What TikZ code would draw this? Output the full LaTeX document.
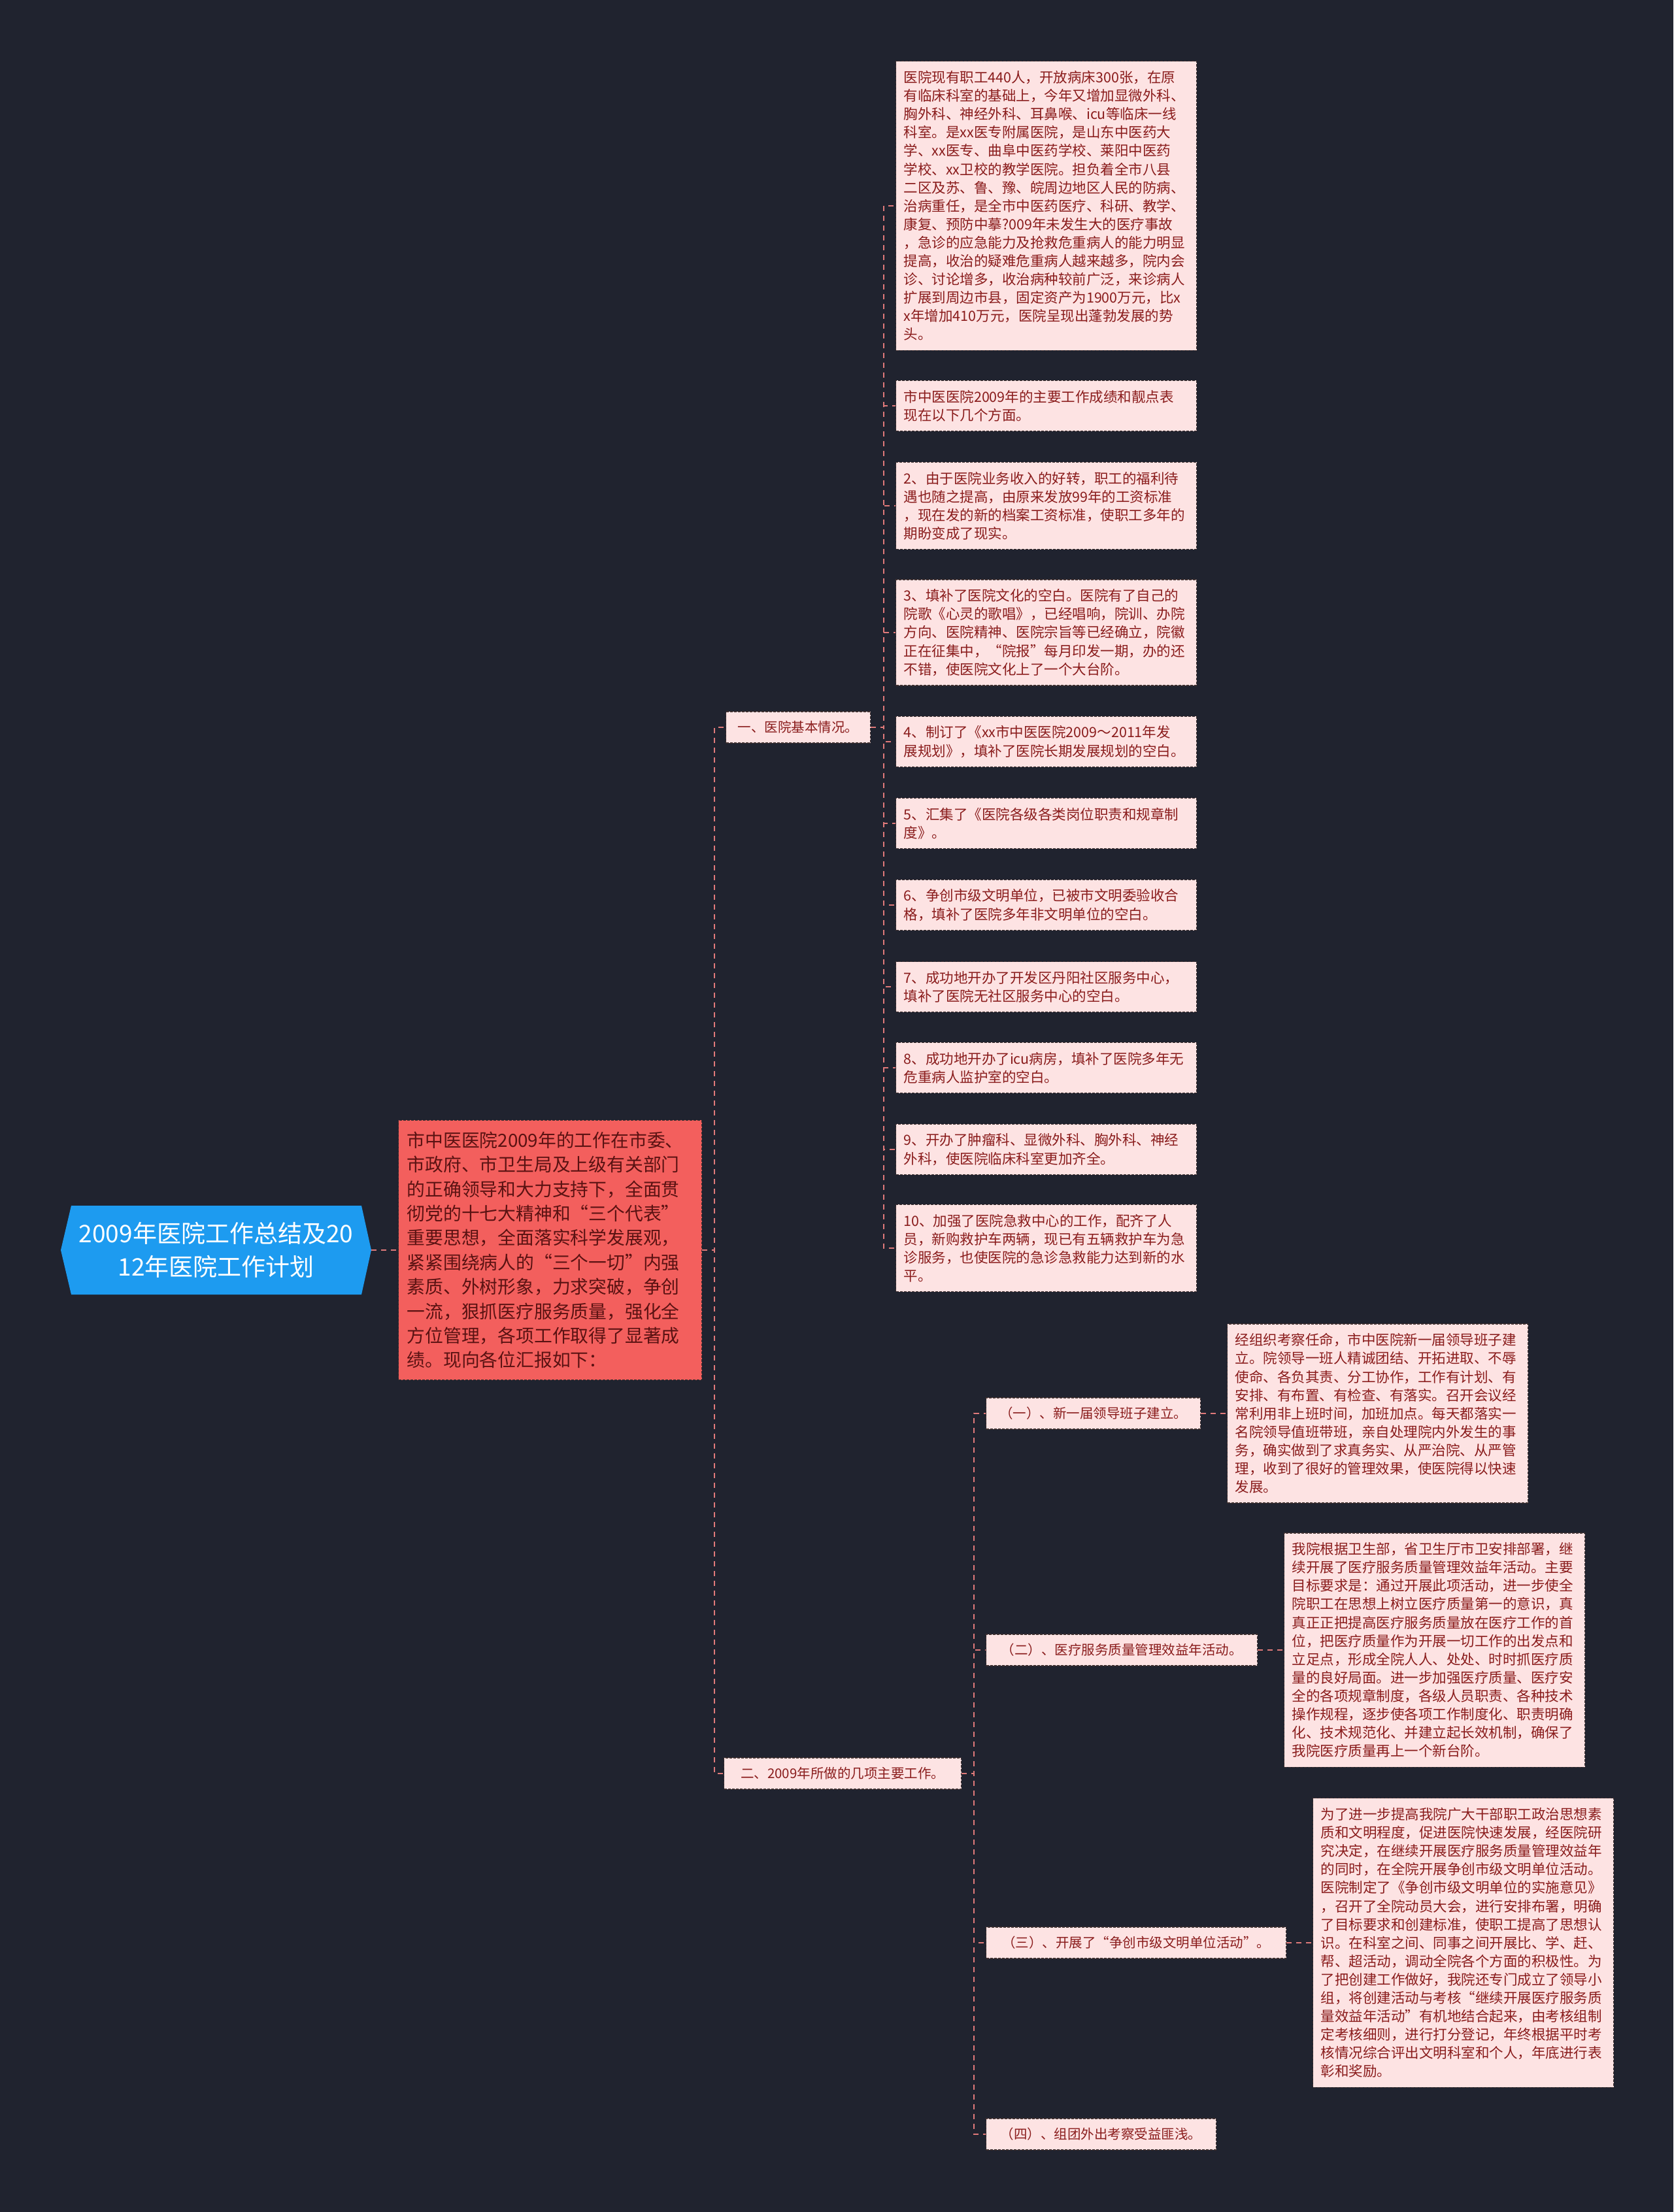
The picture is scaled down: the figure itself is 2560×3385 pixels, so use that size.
\documentclass[tikz,border=0pt]{standalone}
\usepackage{fontspec}
\setmainfont{Noto Sans CJK SC}
\usetikzlibrary{positioning}
\definecolor{bgcol}{HTML}{20232F}
\definecolor{rootcol}{HTML}{1D9BF0}
\definecolor{introcol}{HTML}{F35F5D}
\definecolor{introtext}{HTML}{5A1212}
\definecolor{leafcol}{HTML}{FDE3E3}
\definecolor{leaftext}{HTML}{8A1C1C}
\definecolor{boxline}{HTML}{3E3030}
\definecolor{linkcol}{HTML}{E07A7A}
\begin{document}
\begin{tikzpicture}[x=1pt,y=-1pt,
  link/.style={draw=linkcol,line width=2.5pt,dash pattern=on 8pt off 7pt},
  box/.style={draw=boxline,line width=1.2pt,dash pattern=on 4pt off 2pt},
  leaf/.style={box,fill=leafcol,text=leaftext,anchor=west,align=left,
    text width=436pt,inner xsep=12pt,inner ysep=14.5pt,
    font=\fontsize{21.5}{28.1}\selectfont},
  topic/.style={box,fill=leafcol,text=leaftext,anchor=west,
    inner xsep=14pt,inner ysep=0pt,minimum height=48pt,
    font=\fontsize{20.5}{24}\selectfont}]
\fill[bgcol] (0,0) rectangle (2560,3385);
\useasboundingbox (0,0) rectangle (2560,3385);
\fill[rootcol] (93,1913) -- (109,1845) -- (553,1845) -- (568,1913) -- (553,1981) -- (109,1981) -- cycle;
\node[text=white,align=center,minimum width=475pt,inner sep=0pt,
  font=\fontsize{37}{51}\selectfont] (root) at (330.5,1913)
  {2009年医院工作总结及20\\12年医院工作计划};
\node[box,fill=introcol,text=introtext,anchor=west,align=left,text width=438pt,
  inner xsep=13pt,inner ysep=17.5pt,font=\fontsize{27.8}{37.4}\selectfont] (intro) at (609,1913)
  {市中医医院2009年的工作在市委、\\市政府、市卫生局及上级有关部门\\的正确领导和大力支持下，全面贯\\彻党的十七大精神和“三个代表”\\重要思想，全面落实科学发展观，\\紧紧围绕病人的“三个一切”内强\\素质、外树形象，力求突破，争创\\一流，狠抓医疗服务质量，强化全\\方位管理，各项工作取得了显著成\\绩。现向各位汇报如下：};
\node[topic,minimum width=221pt] (b1) at (1110,1113) {一、医院基本情况。};
\node[topic,minimum width=363pt] (b2) at (1107,2714) {二、2009年所做的几项主要工作。};
\node[leaf] (a1) at (1370,315) {医院现有职工440人，开放病床300张，在原\\有临床科室的基础上，今年又增加显微外科、\\胸外科、神经外科、耳鼻喉、icu等临床一线\\科室。是xx医专附属医院，是山东中医药大\\学、xx医专、曲阜中医药学校、莱阳中医药\\学校、xx卫校的教学医院。担负着全市八县\\二区及苏、鲁、豫、皖周边地区人民的防病、\\治病重任，是全市中医药医疗、科研、教学、\\康复、预防中摹?009年未发生大的医疗事故\\，急诊的应急能力及抢救危重病人的能力明显\\提高，收治的疑难危重病人越来越多，院内会\\诊、讨论增多，收治病种较前广泛，来诊病人\\扩展到周边市县，固定资产为1900万元，比x\\x年增加410万元，医院呈现出蓬勃发展的势\\头。};
\node[leaf] (a2) at (1370,621) {市中医医院2009年的主要工作成绩和靓点表\\现在以下几个方面。};
\node[leaf] (a3) at (1370,774) {2、由于医院业务收入的好转，职工的福利待\\遇也随之提高，由原来发放99年的工资标准\\，现在发的新的档案工资标准，使职工多年的\\期盼变成了现实。};
\node[leaf] (a4) at (1370,968) {3、填补了医院文化的空白。医院有了自己的\\院歌《心灵的歌唱》，已经唱响，院训、办院\\方向、医院精神、医院宗旨等已经确立，院徽\\正在征集中，“院报”每月印发一期，办的还\\不错，使医院文化上了一个大台阶。};
\node[leaf] (a5) at (1370,1135) {4、制订了《xx市中医医院2009～2011年发\\展规划》，填补了医院长期发展规划的空白。};
\node[leaf] (a6) at (1370,1260) {5、汇集了《医院各级各类岗位职责和规章制\\度》。};
\node[leaf] (a7) at (1370,1385) {6、争创市级文明单位，已被市文明委验收合\\格，填补了医院多年非文明单位的空白。};
\node[leaf] (a8) at (1370,1510) {7、成功地开办了开发区丹阳社区服务中心，\\填补了医院无社区服务中心的空白。};
\node[leaf] (a9) at (1370,1634) {8、成功地开办了icu病房，填补了医院多年无\\危重病人监护室的空白。};
\node[leaf] (a10) at (1370,1759) {9、开办了肿瘤科、显微外科、胸外科、神经\\外科，使医院临床科室更加齐全。};
\node[leaf] (a11) at (1370,1910) {10、加强了医院急救中心的工作，配齐了人\\员，新购救护车两辆，现已有五辆救护车为急\\诊服务，也使医院的急诊急救能力达到新的水\\平。};
\node[topic,minimum width=328pt] (s1) at (1508,2163) {（一）、新一届领导班子建立。};
\node[topic,minimum width=415pt] (s2) at (1508,2525) {（二）、医疗服务质量管理效益年活动。};
\node[topic,minimum width=459pt] (s3) at (1508,2973) {（三）、开展了“争创市级文明单位活动”。};
\node[topic,minimum width=352pt] (s4) at (1508,3266) {（四）、组团外出考察受益匪浅。};
\node[leaf,right=40pt of s1] (t1) {经组织考察任命，市中医院新一届领导班子建\\立。院领导一班人精诚团结、开拓进取、不辱\\使命、各负其责、分工协作，工作有计划、有\\安排、有布置、有检查、有落实。召开会议经\\常利用非上班时间，加班加点。每天都落实一\\名院领导值班带班，亲自处理院内外发生的事\\务，确实做到了求真务实、从严治院、从严管\\理，收到了很好的管理效果，使医院得以快速\\发展。};
\node[leaf,right=40pt of s2] (t2) {我院根据卫生部，省卫生厅市卫安排部署，继\\续开展了医疗服务质量管理效益年活动。主要\\目标要求是：通过开展此项活动，进一步使全\\院职工在思想上树立医疗质量第一的意识，真\\真正正把提高医疗服务质量放在医疗工作的首\\位，把医疗质量作为开展一切工作的出发点和\\立足点，形成全院人人、处处、时时抓医疗质\\量的良好局面。进一步加强医疗质量、医疗安\\全的各项规章制度，各级人员职责、各种技术\\操作规程，逐步使各项工作制度化、职责明确\\化、技术规范化、并建立起长效机制，确保了\\我院医疗质量再上一个新台阶。};
\node[leaf,right=40pt of s3] (t3) {为了进一步提高我院广大干部职工政治思想素\\质和文明程度，促进医院快速发展，经医院研\\究决定，在继续开展医疗服务质量管理效益年\\的同时，在全院开展争创市级文明单位活动。\\医院制定了《争创市级文明单位的实施意见》\\，召开了全院动员大会，进行安排布署，明确\\了目标要求和创建标准，使职工提高了思想认\\识。在科室之间、同事之间开展比、学、赶、\\帮、超活动，调动全院各个方面的积极性。为\\了把创建工作做好，我院还专门成立了领导小\\组，将创建活动与考核“继续开展医疗服务质\\量效益年活动”有机地结合起来，由考核组制\\定考核细则，进行打分登记，年终根据平时考\\核情况综合评出文明科室和个人，年底进行表\\彰和奖励。};
\draw[link] (root.east) -- (intro.west);
\draw[link] (intro.east) -- ++(19,0) |- (b1.west);
\draw[link] (intro.east) -- ++(19,0) |- (b2.west);
\foreach \n in {1,...,11}
{
  \draw[link] (b1.east) -- ++(20,0) |- (a\n.west);
}
\foreach \n in {1,...,4}
{
  \draw[link] (b2.east) -- ++(19,0) |- (s\n.west);
}
\foreach \n in {1,2,3}
{
  \draw[link] (s\n.east) -- (t\n.west);
}
\end{tikzpicture}
\end{document}
